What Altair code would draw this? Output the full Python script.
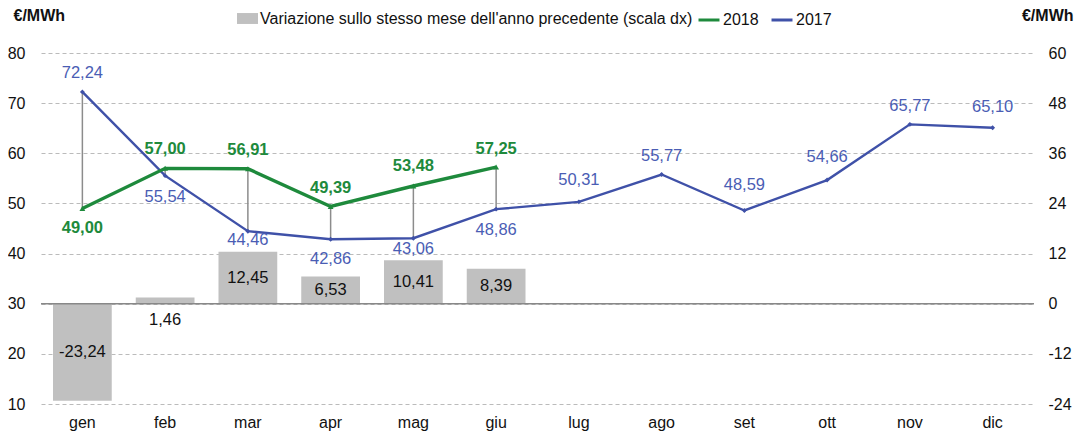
import altair as alt
import pandas as pd

months = ["gen", "feb", "mar", "apr", "mag", "giu", "lug", "ago", "set", "ott", "nov", "dic"]
v2017 = [72.24, 55.54, 44.46, 42.86, 43.06, 48.86, 50.31, 55.77, 48.59, 54.66, 65.77, 65.10]
v2018 = [49.00, 57.00, 56.91, 49.39, 53.48, 57.25]
variazione = [-23.24, 1.46, 12.45, 6.53, 10.41, 8.39]

# label placement styles (pixel offsets), kept apart from the data
dy2017 = {"gen": -19, "feb": 21, "mar": 9, "apr": 20, "mag": 11, "giu": 21,
          "lug": -22, "ago": -18, "set": -25, "ott": -23, "nov": -18, "dic": -21}
dy2018 = {"gen": 20, "feb": -19, "mar": -19, "apr": -18, "mag": -20, "giu": -18}

BAR_NAME = "Variazione sullo stesso mese dell'anno precedente (scala dx)"
GREEN = "#1e8a3c"
BLUE = "#3f51a8"
BLUE_TXT = "#4a5db4"
GRAY = "#c0c0c0"
FONT = "Liberation Sans"
FS = 16
LFS = 16.5


def fmt(v):
    return f"{v:.2f}".replace(".", ",")


df17 = pd.DataFrame({"mese": months, "val": v2017, "serie": "2017",
                     "lab": [fmt(v) for v in v2017]})
df18 = pd.DataFrame({"mese": months[:6], "val": v2018, "serie": "2018",
                     "lab": [fmt(v) for v in v2018]})
dfbar = pd.DataFrame({"mese": months[:6], "var": variazione, "serie": BAR_NAME,
                      "lab": [fmt(v) for v in variazione]})
dfrule = pd.DataFrame({"mese": months[:6], "a": v2017[:6], "b": v2018})

xaxis = alt.Axis(title=None, labelFont=FONT, labelFontSize=FS,
                 labelColor="#111", domain=False, ticks=False,
                 labelAngle=0, labelPadding=10)
xscale = alt.Scale(paddingInner=0.29, paddingOuter=0.145)


def X():
    return alt.X("mese:N", sort=months, scale=xscale, axis=xaxis)


yleft_scale = alt.Scale(domain=[10, 80], nice=False, zero=False)
yright_scale = alt.Scale(domain=[-24, 60], nice=False, zero=False)

yleft_axis = alt.Axis(values=[10, 20, 30, 40, 50, 60, 70, 80], orient="left",
                      title="€/MWh", titleAngle=0, titleAlign="left",
                      titleBaseline="middle", titleX=-28, titleY=-38,
                      titleFont=FONT, titleFontSize=FS, titleFontWeight="bold",
                      titleColor="#111", labelFont=FONT, labelFontSize=FS,
                      labelColor="#111", domain=False, ticks=False, labelPadding=16,
                      grid=True, gridDash=[4, 3], gridColor="#bbbbbb", gridWidth=1.2)
yright_axis = alt.Axis(values=[-24, -12, 0, 12, 24, 36, 48, 60], orient="right",
                       labelExpr="replace(datum.label, '\u2212', '-')",
                       title="€/MWh", titleAngle=0, titleAlign="right",
                       titleBaseline="middle", titleX=39, titleY=-38,
                       titleFont=FONT, titleFontSize=FS, titleFontWeight="bold",
                       titleColor="#111", labelFont=FONT, labelFontSize=FS,
                       labelColor="#111", domain=False, ticks=False, labelPadding=14,
                       grid=False)


def YR(field):
    return alt.Y(field, scale=yright_scale, axis=yright_axis)


def YL(field):
    return alt.Y(field, scale=yleft_scale, axis=yleft_axis)


# ---- bar group (right scale) ----
bars = alt.Chart(dfbar).mark_bar(color=GRAY).encode(
    x=X(),
    y=YR("var:Q"),
    fill=alt.Fill("serie:N", scale=alt.Scale(domain=[BAR_NAME], range=[GRAY]),
                  legend=alt.Legend(title=None, orient="none", legendX=196, legendY=-45,
                                    symbolType="M-1,-0.52H1V0.52H-1Z", symbolSize=441,
                                    labelFont=FONT, labelFontSize=FS, labelColor="#111",
                                    labelOffset=2, labelLimit=600, symbolStrokeWidth=0)),
)
zero_line = alt.Chart(pd.DataFrame({"z": [0]})).mark_rule(color="#888888", strokeWidth=1.5).encode(
    y=YR("z:Q"))
bar_text = alt.Chart(dfbar).transform_filter("abs(datum['var']) >= 3").transform_calculate(
    mid="datum['var'] / 2").mark_text(font=FONT, fontSize=LFS, color="#111").encode(
    x=X(), y=YR("mid:Q"), text="lab:N")
bar_text_small = alt.Chart(dfbar).transform_filter("abs(datum['var']) < 3").transform_calculate(
    z="0").mark_text(font=FONT, fontSize=LFS, color="#111", dy=16).encode(
    x=X(), y=YR("z:Q"), text="lab:N")

bar_group = alt.layer(bars, zero_line, bar_text, bar_text_small)

# ---- line group (left scale) ----
stroke_legend = alt.Legend(title=None, orient="none", legendX=656, legendY=-45,
                           direction="horizontal", symbolType="stroke",
                           symbolStrokeWidth=3, symbolSize=440,
                           labelFont=FONT, labelFontSize=FS, labelColor="#111",
                           labelOffset=2, columnPadding=6)
stroke_scale = alt.Scale(domain=["2018", "2017"], range=[GREEN, BLUE])

rules = alt.Chart(dfrule).mark_rule(color="#8c8c8c", strokeWidth=1.5).encode(
    x=X(), y=YL("a:Q"), y2="b:Q")

line17 = alt.Chart(df17).mark_line(strokeWidth=2.4).encode(
    x=X(), y=YL("val:Q"),
    stroke=alt.Stroke("serie:N", scale=stroke_scale, legend=stroke_legend))
pts17 = alt.Chart(df17).mark_point(shape="diamond", filled=True, size=24, color=BLUE, opacity=1).encode(
    x=X(), y=YL("val:Q"))
line18 = alt.Chart(df18).mark_line(strokeWidth=3.4).encode(
    x=X(), y=YL("val:Q"),
    stroke=alt.Stroke("serie:N", scale=stroke_scale, legend=stroke_legend))
pts18 = alt.Chart(df18).mark_point(shape="triangle-up", filled=True, size=34, color=GREEN, opacity=1).encode(
    x=X(), y=YL("val:Q"))

labels = []
for dy in sorted(set(dy2017.values())):
    ms = [m for m in months if dy2017[m] == dy]
    labels.append(alt.Chart(df17[df17["mese"].isin(ms)]).mark_text(
        font=FONT, fontSize=LFS, color=BLUE_TXT, dy=dy).encode(
        x=X(), y=YL("val:Q"), text="lab:N"))
for dy in sorted(set(dy2018.values())):
    ms = [m for m in months[:6] if dy2018[m] == dy]
    labels.append(alt.Chart(df18[df18["mese"].isin(ms)]).mark_text(
        font=FONT, fontSize=LFS, fontWeight="bold", color=GREEN, dy=dy).encode(
        x=X(), y=YL("val:Q"), text="lab:N"))

line_group = alt.layer(rules, line17, pts17, line18, pts18, *labels)

chart = alt.layer(bar_group, line_group).resolve_scale(
    y="independent", fill="independent", stroke="independent"
).properties(
    width=993, height=351,
    autosize=alt.AutoSizeParams(type="none"),
    padding={"left": 33, "top": 45, "right": 41, "bottom": 32},
    background="white",
).configure_view(stroke=None)

chart.save("out.html", embed_options={"renderer": "svg", "actions": False})
